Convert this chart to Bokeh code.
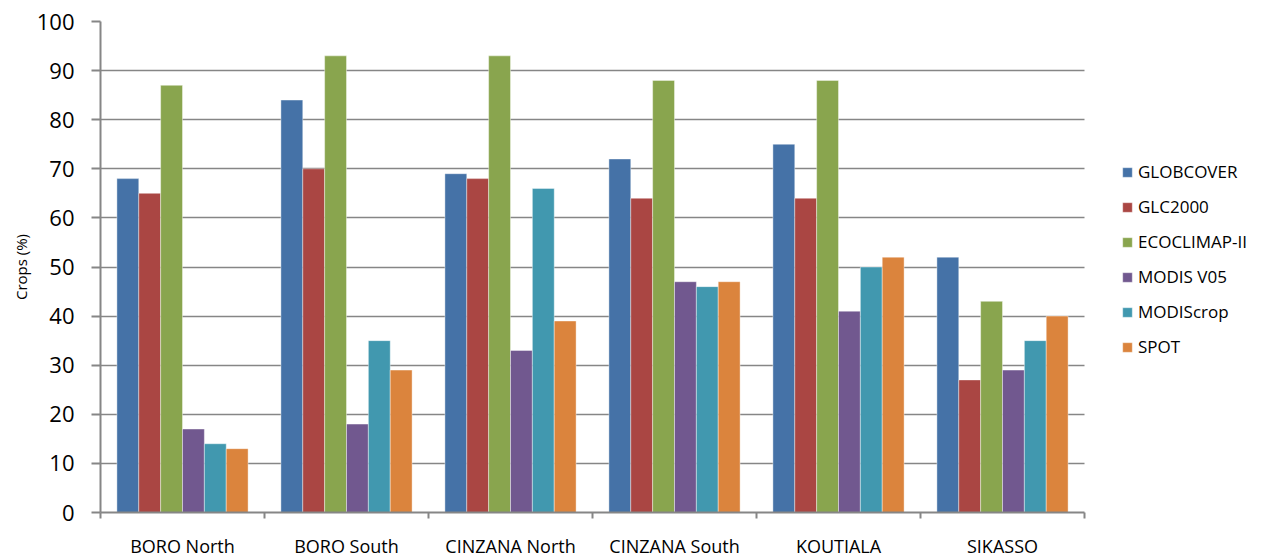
import numpy as np
from bokeh.plotting import figure
from bokeh.models import FixedTicker, Range1d, Legend, LegendItem, ColumnDataSource
from bokeh.embed import file_html
from bokeh.resources import INLINE

categories = ["BORO North", "BORO South", "CINZANA North", "CINZANA South", "KOUTIALA", "SIKASSO"]
series_names = ["GLOBCOVER", "GLC2000", "ECOCLIMAP-II", "MODIS V05", "MODIScrop", "SPOT"]
globcover = [68, 84, 69, 72, 75, 52]
glc2000 = [65, 70, 68, 64, 64, 27]
ecoclimap = [87, 93, 93, 88, 88, 43]
modis_v05 = [17, 18, 33, 47, 41, 29]
modiscrop = [14, 35, 66, 46, 50, 35]
spot = [13, 29, 39, 47, 52, 40]
y_ticks = list(range(0, 101, 10))
colors = ["#4572A7", "#AA4643", "#89A54E", "#71588F", "#4198AF", "#DB843D"]

all_series = [globcover, glc2000, ecoclimap, modis_v05, modiscrop, spot]

FONT = "Open Sans"
GRAY = "#868686"

W, H = 1262, 560
LEFT, TOP, BOTTOM = 100, 21, 45
PLOT_W = 984  # pixel width of the category area
ncat = len(categories)
# extend the frame to the figure's right edge so the legend can live inside it
x_end = ncat * (W - LEFT) / PLOT_W

p = figure(width=W, height=H, output_backend="svg", toolbar_location=None,
           x_range=Range1d(0, x_end), y_range=Range1d(0, 100),
           min_border_left=LEFT, min_border_top=TOP, min_border_right=0, min_border_bottom=BOTTOM)
p.outline_line_color = None
p.background_fill_color = "white"

# horizontal gridlines limited to the category area
grid_ok = False
try:
    p.ygrid.cross_bounds = (0, ncat)
    grid_ok = True
except Exception:
    grid_ok = False
p.ygrid.ticker = FixedTicker(ticks=y_ticks)
p.ygrid.grid_line_color = GRAY
p.ygrid.grid_line_width = 1.5
if not grid_ok:
    p.ygrid.visible = False
    gsrc = ColumnDataSource(dict(x0=[0] * len(y_ticks), x1=[ncat] * len(y_ticks), y=y_ticks))
    p.segment(x0="x0", x1="x1", y0="y", y1="y", source=gsrc, line_color=GRAY, line_width=1.5)

n = len(all_series)
bar_w = 1.0 / 7.5
centers = np.arange(ncat) + 0.5
items = []
for j, (name, vals, c) in enumerate(zip(series_names, all_series, colors)):
    xs = centers + (j - (n - 1) / 2) * bar_w
    src = ColumnDataSource(dict(x=xs, top=vals))
    r = p.vbar(x="x", top="top", width=bar_w, bottom=0, source=src,
               fill_color=c, line_color="white", line_alpha=0.5, line_width=0.8)
    items.append(LegendItem(label=name, renderers=[r]))

# x axis: boundary ticks as minor ticks, labels at centers
p.xaxis.bounds = (0, ncat)
p.xaxis.ticker = FixedTicker(ticks=list(centers), minor_ticks=list(range(ncat + 1)))
p.xaxis.major_label_overrides = {float(c): cat for c, cat in zip(centers, categories)}
p.xaxis.major_tick_out = 0
p.xaxis.major_tick_in = 0
p.xaxis.minor_tick_out = 6
p.xaxis.minor_tick_in = 0
p.xaxis.minor_tick_line_color = GRAY
p.xaxis.minor_tick_line_width = 2
p.xaxis.axis_line_color = GRAY
p.xaxis.axis_line_width = 2
p.xaxis.major_label_text_font = FONT
p.xaxis.major_label_text_font_size = "18px"
p.xaxis.major_label_text_color = "black"
p.xaxis.major_label_standoff = 15
p.xgrid.visible = False

p.yaxis.ticker = FixedTicker(ticks=y_ticks, minor_ticks=[])
p.yaxis.major_tick_out = 9
p.yaxis.major_tick_in = 0
p.yaxis.major_tick_line_color = GRAY
p.yaxis.major_tick_line_width = 2
p.yaxis.axis_line_color = GRAY
p.yaxis.axis_line_width = 2
p.yaxis.major_label_text_font = FONT
p.yaxis.major_label_text_font_size = "22px"
p.yaxis.major_label_text_color = "black"
p.yaxis.major_label_standoff = 17
p.yaxis.axis_label = "Crops (%)"
p.yaxis.axis_label_text_font = FONT
p.yaxis.axis_label_text_font_size = "15px"
p.yaxis.axis_label_text_font_style = "normal"
p.yaxis.axis_label_text_color = "black"
p.yaxis.axis_label_standoff = 3

legend = Legend(items=items, location=(1021, 154), orientation="vertical",
                padding=0, margin=0, border_line_color=None, background_fill_alpha=0,
                glyph_width=12, glyph_height=12, label_height=20, spacing=12,
                label_standoff=5, label_text_font=FONT, label_text_font_size="17px",
                label_text_color="black")
p.add_layout(legend)

open("out.html", "w").write(file_html(p, INLINE))
